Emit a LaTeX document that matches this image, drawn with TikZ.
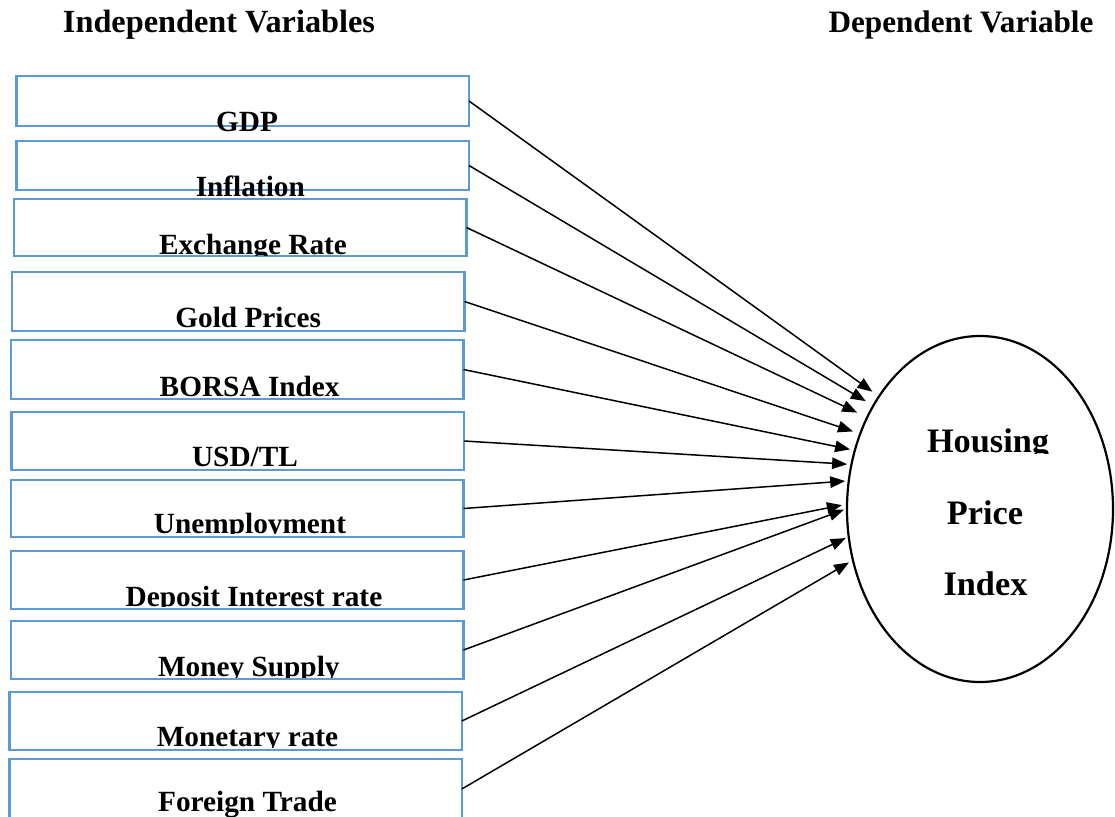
\documentclass[tikz,border=0pt]{standalone}
\usepackage{fontspec}
\setmainfont{Liberation Serif}
\usetikzlibrary{arrows.meta,shapes.geometric}
\definecolor{boxblue}{RGB}{91,155,213}
% box name, x, baseline, cut y, text
\newcommand{\cliplbl}[5]{%
  \begin{scope}
    \clip (#1.north west) rectangle (1115,#4);
    \node[lbl,anchor=base] (#1t) at (#2,#3) {#5};
  \end{scope}}
\begin{document}
\begin{tikzpicture}[x=1pt,y=-1pt,
  varbox/.style={draw=boxblue, line width=2.4pt, anchor=north west, inner sep=0pt, outer sep=0pt, minimum width=452.5pt},
  lbl/.style={font=\fontsize{29.3}{32}\selectfont\bfseries, inner sep=0pt},
  hdr/.style={font=\fontsize{32.3}{34}\selectfont\bfseries, inner sep=0pt, anchor=base},
  ell/.style={font=\fontsize{34.3}{36}\selectfont\bfseries, inner sep=0pt, anchor=base},
  arr/.style={-{Triangle[length=15pt,width=11.5pt]}, line width=1.5pt}]
\useasboundingbox (0,0) rectangle (1115,816);

% headers
\node[hdr] (hind) at (219,33) {Independent Variables};
\node[hdr, font=\fontsize{31.2}{34}\selectfont\bfseries] (hdep) at (961,33) {Dependent Variable};

% boxes
\node[varbox, minimum height=50pt] (b1) at (16.5,76) {};
\node[varbox, minimum height=49pt] (b2) at (16.5,141) {};
\node[varbox, minimum height=57pt] (b3) at (14,199) {};
\node[varbox, minimum height=59pt] (b4) at (12,272) {};
\node[varbox, minimum height=59pt] (b5) at (11,340) {};
\node[varbox, minimum height=58pt] (b6) at (11.5,412) {};
\node[varbox, minimum height=57pt] (b7) at (11,480) {};
\node[varbox, minimum height=58pt] (b8) at (11,551) {};
\node[varbox, minimum height=58pt] (b9) at (11,621) {};
\node[varbox, minimum height=58pt] (b10) at (9.3,692) {};
\node[varbox, minimum height=60pt] (b11) at (9.3,759) {};

% labels
\node[lbl,anchor=base] (b1t) at (247,131.5) {GDP};
\node[lbl,anchor=base] (b2t) at (250.3,196.5) {Inflation};
\cliplbl{b3}{253}{254.8}{255.2}{Exchange Rate}
\cliplbl{b4}{248.2}{327.3}{330}{Gold Prices}
\cliplbl{b5}{249.7}{396}{398}{BORSA Index}
\cliplbl{b6}{245}{466.7}{469}{USD/TL}
\cliplbl{b7}{250}{533.3}{533.8}{Unemployment}
\cliplbl{b8}{254}{606}{606.5}{Deposit Interest rate}
\cliplbl{b9}{248.8}{676.5}{677}{Money Supply}
\cliplbl{b10}{247.5}{746.5}{747}{Monetary rate}
\node[lbl,anchor=base] (b11t) at (247.5,811.7) {Foreign Trade};

% dependent variable
\node[draw, ellipse, line width=2.2pt, minimum width=266pt, minimum height=346pt, inner sep=0pt] (hpi) at (980,509) {};
\begin{scope}
  \clip (850,400) rectangle (1110,453);
  \node[ell] (t1) at (988,452.5) {Housing};
\end{scope}
\node[ell] (t2) at (985,524) {Price};
\node[ell] (t3) at (985.5,595) {Index};

% connectors
\draw[arr, shorten >=7pt]   (b1.east)  -- (hpi.132.15);
\draw[arr, shorten >=7.7pt] (b2.east)  -- (hpi.136.45);
\draw[arr, shorten >=10pt]  (b3.east)  -- (hpi.141.8);
\draw[arr, shorten >=6.5pt] (b4.east)  -- (hpi.148.0);
\draw[arr, shorten >=3.8pt] (b5.east)  -- (hpi.155.1);
\draw[arr, shorten >=3.3pt] (b6.east)  -- (hpi.161.2);
\draw[arr, shorten >=2.5pt] (b7.east)  -- (hpi.168.9);
\draw[arr, shorten >=4.1pt] (b8.east)  -- (hpi.178.6);
\draw[arr, shorten >=2.1pt] (b9.east)  -- (hpi.180.1);
\draw[arr, shorten >=2.2pt] (b10.east) -- (hpi.192.9);
\draw[arr, shorten >=3.4pt] (b11.east) -- (hpi.202.0);
\end{tikzpicture}
\end{document}
